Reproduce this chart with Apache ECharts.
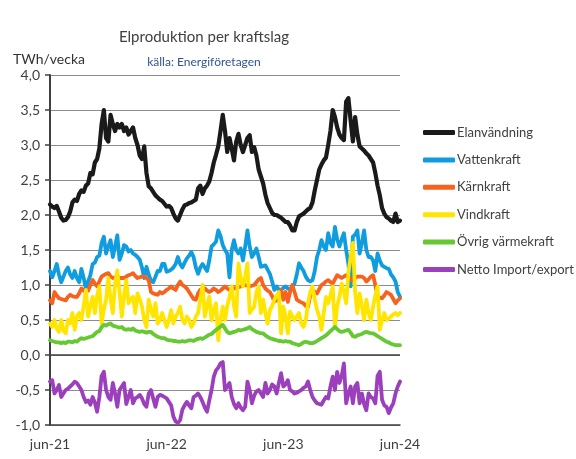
<!DOCTYPE html>
<html>
<head>
<meta charset="utf-8">
<script src="https://cdn.jsdelivr.net/npm/echarts@6/dist/echarts.min.js"></script>
<style>html,body{margin:0;padding:0;background:#fff}#c{width:576px;height:459px}</style>
</head>
<body>
<div id="c"></div>
<script>
var tickLabels = ["jun-21", "jun-22", "jun-23", "jun-24"];
var seriesNames = ["Elanvändning", "Vattenkraft", "Kärnkraft", "Vindkraft", "Övrig värmekraft", "Netto Import/export"];

var elanvandning = [2.15,2.12,2.10,2.13,2.05,1.96,1.92,1.93,1.97,2.05,2.18,2.22,2.2,2.3,2.35,2.33,2.42,2.45,2.6,2.58,
2.75,2.8,2.95,3.3,3.5,3.1,3.05,3.43,3.3,3.2,3.3,3.25,3.3,3.2,3.25,3.15,3.2,3.25,3.1,3.0,
2.85,2.8,2.98,2.6,2.41,2.38,2.33,2.28,2.25,2.22,2.2,2.16,2.12,2.13,2.1,2.02,1.95,1.92,2.0,2.08,
2.14,2.15,2.17,2.18,2.2,2.22,2.38,2.42,2.3,2.38,2.42,2.48,2.6,2.75,2.86,2.98,3.2,3.43,3.2,2.9,
3.1,2.95,2.78,3.05,3.16,3.0,2.9,3.0,3.1,3.14,2.9,2.97,2.85,2.65,2.55,2.45,2.29,2.17,2.1,2.03,
2.0,2.0,1.98,1.96,1.93,1.9,1.9,1.85,1.78,1.78,1.9,1.98,2.0,2.02,2.05,2.08,2.1,2.18,2.35,2.5,
2.65,2.72,2.78,2.82,3.0,3.2,3.5,3.4,3.25,3.15,3.1,3.07,3.62,3.67,3.35,3.05,3.4,3.15,2.98,2.95,
2.92,2.88,2.85,2.8,2.75,2.6,2.42,2.28,2.1,2.02,1.97,1.95,1.92,1.9,2.02,1.9,1.92];

var vattenkraft = [1.2,1.11,1.2,1.3,1.15,1.04,1.12,1.2,1.25,1.15,1.1,1.2,1.1,1.04,1.23,1.1,0.95,1.05,1.14,1.3,
1.32,1.4,1.42,1.6,1.69,1.45,1.55,1.64,1.4,1.55,1.71,1.36,1.45,1.57,1.55,1.48,1.5,1.45,1.43,1.4,
1.36,1.25,1.1,1.26,1.15,1.06,1.04,1.12,1.2,1.2,1.3,1.3,1.19,1.2,1.22,1.25,1.3,1.4,1.3,1.25,
1.32,1.38,1.42,1.47,1.4,1.25,1.16,1.25,1.3,1.25,1.2,1.35,1.55,1.58,1.62,1.78,1.7,1.57,1.5,1.45,
1.11,1.5,1.64,1.5,1.45,1.52,1.35,1.55,1.78,1.55,1.4,1.45,1.52,1.4,1.26,1.27,1.28,1.22,1.16,1.05,
0.93,0.98,0.93,0.93,0.96,0.98,0.95,0.93,0.98,1.02,1.15,1.31,1.25,1.2,1.12,1.07,1.05,1.07,1.2,1.4,
1.5,1.64,1.55,1.5,1.74,1.6,1.55,1.83,1.65,1.55,1.65,1.74,1.5,1.3,0.98,1.69,1.72,1.78,1.45,1.6,
1.78,1.5,1.4,1.4,1.35,1.2,1.45,1.35,1.28,1.26,1.24,1.23,1.15,1.11,1.05,0.9,0.83];

var karnkraft = [0.78,0.74,0.9,0.85,0.81,0.8,0.79,0.78,0.83,0.86,0.84,0.83,0.83,0.88,0.95,0.92,0.9,0.92,1.0,1.07,
1.02,0.98,1.05,1.12,1.14,1.16,1.17,1.12,1.1,1.11,1.12,1.1,1.1,1.1,1.12,1.14,1.15,1.17,1.13,1.1,
1.11,1.12,1.12,1.1,1.07,0.9,0.88,0.87,0.86,0.9,0.88,0.9,0.93,0.95,0.98,0.95,0.93,1.0,1.05,1.0,
0.98,0.95,0.9,0.85,0.8,0.79,0.88,0.93,0.94,0.95,0.92,0.9,0.92,0.95,0.93,0.9,0.92,0.95,0.98,0.95,
0.93,0.94,0.95,0.96,0.97,0.98,0.99,1.0,0.99,0.98,0.99,1.0,1.04,1.08,1.1,1.0,0.95,0.92,0.9,0.84,
0.77,0.78,0.81,0.93,0.79,0.9,0.76,0.9,1.0,0.9,0.79,0.77,0.75,0.74,0.7,0.69,0.85,0.93,0.9,0.88,
0.94,1.0,1.02,1.05,1.07,1.04,1.02,1.08,1.14,1.12,1.1,1.12,1.14,1.13,1.08,1.07,1.1,1.12,1.12,1.12,
1.1,1.05,1.08,1.12,1.14,1.0,0.83,0.82,0.81,0.85,0.9,0.88,0.86,0.8,0.74,0.78,0.81];

var vindkraft = [0.45,0.4,0.5,0.38,0.33,0.5,0.35,0.31,0.5,0.45,0.6,0.36,0.55,0.6,0.5,0.7,0.93,0.55,0.7,0.83,
0.6,0.85,0.98,0.45,0.65,0.79,1.1,0.8,0.6,1.02,1.21,0.9,0.55,0.85,1.07,0.74,0.8,0.83,0.6,0.88,
0.8,0.69,0.5,0.4,0.79,0.65,0.55,0.74,0.45,0.5,0.6,0.5,0.4,0.5,0.64,0.45,0.55,0.6,0.69,0.5,
0.45,0.55,0.5,0.4,0.45,0.55,0.6,0.8,1.0,0.55,0.7,0.83,0.5,0.65,0.74,0.21,0.5,0.69,0.5,0.7,
0.83,0.98,0.7,0.55,1.31,1.1,0.98,1.12,1.31,0.6,0.65,0.69,0.9,0.98,0.6,0.79,0.6,0.45,0.64,0.7,
0.79,0.85,0.9,0.31,0.69,0.55,0.31,0.62,0.55,0.5,0.55,0.6,0.45,0.4,0.5,0.74,0.9,0.98,0.79,0.65,
0.55,0.36,0.6,0.83,0.74,0.85,0.98,0.4,0.7,0.83,1.02,0.9,0.74,1.17,1.4,1.6,0.9,0.6,0.88,0.7,
0.5,0.79,0.6,0.5,0.69,0.85,0.98,0.36,0.5,0.6,0.5,0.52,0.55,0.58,0.6,0.57,0.6];

var ovrigVarmekraft = [0.21,0.2,0.19,0.18,0.18,0.17,0.18,0.17,0.19,0.19,0.18,0.2,0.19,0.22,0.24,0.23,0.24,0.25,0.26,0.27,
0.3,0.33,0.34,0.4,0.43,0.42,0.44,0.45,0.42,0.41,0.4,0.39,0.4,0.37,0.36,0.37,0.36,0.38,0.35,0.34,
0.33,0.34,0.33,0.32,0.33,0.33,0.3,0.28,0.26,0.25,0.24,0.24,0.22,0.21,0.21,0.2,0.2,0.19,0.19,0.2,
0.19,0.2,0.21,0.21,0.2,0.22,0.23,0.24,0.23,0.25,0.27,0.29,0.3,0.33,0.36,0.38,0.41,0.43,0.38,0.33,
0.31,0.32,0.33,0.34,0.36,0.35,0.36,0.37,0.38,0.4,0.37,0.35,0.33,0.32,0.31,0.31,0.28,0.26,0.24,0.23,
0.22,0.21,0.2,0.2,0.19,0.2,0.19,0.19,0.17,0.16,0.15,0.14,0.16,0.18,0.19,0.18,0.17,0.17,0.18,0.2,
0.22,0.24,0.26,0.28,0.31,0.34,0.37,0.4,0.37,0.34,0.33,0.34,0.35,0.36,0.32,0.27,0.26,0.28,0.29,0.3,
0.32,0.33,0.32,0.31,0.31,0.29,0.27,0.25,0.23,0.21,0.19,0.18,0.16,0.15,0.14,0.14,0.14];

var nettoImportExport = [-0.38,-0.36,-0.55,-0.5,-0.43,-0.6,-0.55,-0.5,-0.48,-0.45,-0.42,-0.38,-0.4,-0.45,-0.5,-0.6,-0.67,-0.65,-0.71,-0.6,
-0.68,-0.81,-0.6,-0.3,-0.24,-0.5,-0.6,-0.64,-0.4,-0.55,-0.74,-0.5,-0.45,-0.4,-0.7,-0.6,-0.5,-0.69,-0.62,-0.6,
-0.57,-0.62,-0.7,-0.74,-0.55,-0.5,-0.62,-0.74,-0.6,-0.57,-0.58,-0.6,-0.62,-0.67,-0.72,-0.88,-0.95,-0.97,-0.93,-0.78,
-0.72,-0.67,-0.72,-0.76,-0.6,-0.58,-0.55,-0.6,-0.67,-0.75,-0.81,-0.65,-0.5,-0.31,-0.22,-0.18,-0.12,-0.1,-0.5,-0.45,
-0.4,-0.6,-0.7,-0.76,-0.69,-0.75,-0.79,-0.74,-0.38,-0.5,-0.69,-0.58,-0.52,-0.5,-0.55,-0.6,-0.4,-0.55,-0.5,-0.42,
-0.45,-0.55,-0.4,-0.26,-0.45,-0.42,-0.36,-0.5,-0.52,-0.55,-0.54,-0.52,-0.5,-0.47,-0.45,-0.38,-0.5,-0.6,-0.65,-0.69,
-0.7,-0.71,-0.65,-0.6,-0.62,-0.45,-0.31,-0.5,-0.24,-0.4,-0.3,-0.12,-0.69,-0.55,-0.45,-0.69,-0.45,-0.4,-0.69,-0.55,
-0.7,-0.79,-0.55,-0.6,-0.62,-0.69,-0.3,-0.24,-0.64,-0.72,-0.74,-0.83,-0.75,-0.69,-0.55,-0.45,-0.38];

var seriesValues = [elanvandning, vattenkraft, karnkraft, vindkraft, ovrigVarmekraft, nettoImportExport];
var colors = ["#1a1a1a", "#0f9ddf", "#f7631e", "#ffe500", "#66c933", "#9b3fbd"];
var weeksPerYear = 52;

var FONT = "Lato, 'Open Sans', sans-serif";
var chart = echarts.init(document.getElementById('c'), null, {renderer: 'canvas'});

var series = seriesNames.map(function (name, k) {
  return {
    name: name,
    type: 'line',
    data: seriesValues[k].map(function (v, i) { return [i, v]; }),
    showSymbol: false,
    symbol: 'none',
    lineStyle: {color: colors[k], width: k === 0 ? 4.2 : 3.8, join: 'round', cap: 'round'},
    itemStyle: {color: colors[k]},
    z: 3 + k,
    animation: false
  };
});
series.push({
  type: 'line', data: [], silent: true,
  markLine: {
    silent: true, symbol: 'none', label: {show: false},
    lineStyle: {color: '#404040', width: 1.5, type: 'solid'},
    data: [{yAxis: 0}]
  },
  z: 2
});

chart.setOption({
  backgroundColor: '#fff',
  animation: false,
  title: [
    {text: 'Elproduktion per kraftslag', left: 199, top: 25, textAlign: 'center',
     textStyle: {fontFamily: FONT, fontSize: 15, fontWeight: 'normal', color: '#404040'}},
    {text: 'källa: Energiföretagen', left: 199, top: 51, textAlign: 'center',
     textStyle: {fontFamily: FONT, fontSize: 12, fontWeight: 'normal', color: '#2f5597'}},
    {text: 'TWh/vecka', left: 8, top: 47,
     textStyle: {fontFamily: FONT, fontSize: 14, fontWeight: 'normal', color: '#333'}}
  ],
  legend: {
    orient: 'vertical', left: 418, top: 120,
    itemWidth: 32, itemHeight: 5, itemGap: 12.4,
    icon: 'roundRect',
    data: seriesNames,
    textStyle: {fontFamily: FONT, fontSize: 13, color: '#404040', padding: [0, 0, 0, -3], lineHeight: 15},
    selectedMode: false
  },
  grid: {left: 50, right: 176, top: 75, bottom: 34, containLabel: false},
  xAxis: {
    type: 'value', min: 0, max: weeksPerYear * 3, interval: weeksPerYear,
    axisLine: {show: true, onZero: false, lineStyle: {color: '#404040', width: 1.5}},
    axisTick: {show: false},
    splitLine: {show: false},
    axisLabel: {
      fontFamily: FONT, fontSize: 14, color: '#404040', margin: 12,
      formatter: function (v) { return tickLabels[Math.round(v / weeksPerYear)] || ''; }
    }
  },
  yAxis: {
    type: 'value', min: -1, max: 4, interval: 0.5,
    axisLine: {show: true, lineStyle: {color: '#404040', width: 2}},
    axisTick: {show: true, length: 5, lineStyle: {color: '#404040', width: 1.5}},
    splitLine: {show: true, lineStyle: {color: '#8c8c8c', width: 1}},
    axisLabel: {
      fontFamily: FONT, fontSize: 14, color: '#404040', margin: 10,
      formatter: function (v) { return v.toFixed(1).replace('.', ','); }
    }
  },
  series: series
});
</script>
</body>
</html>
